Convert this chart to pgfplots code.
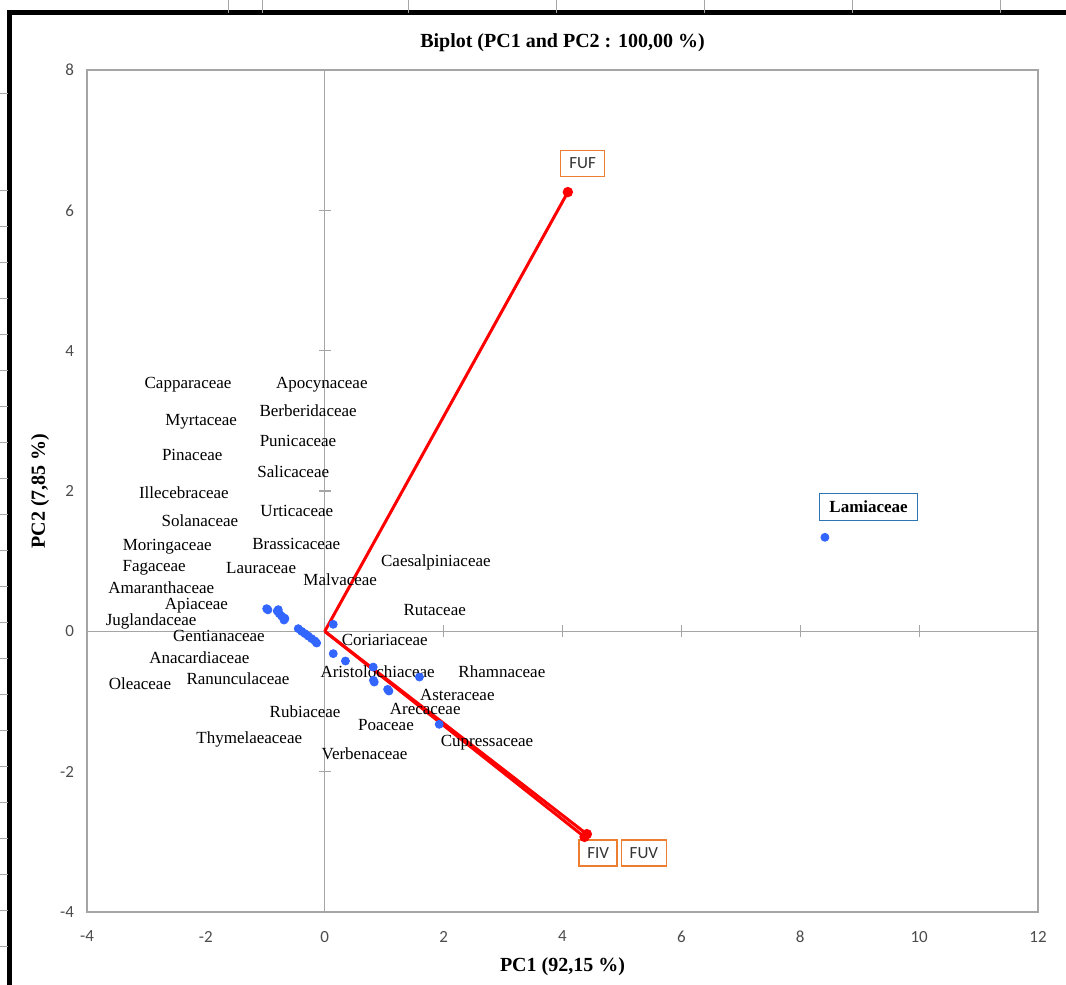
\documentclass[border=0pt]{standalone}
\usepackage{fontspec}
\setmainfont{Liberation Serif}
\newfontfamily\calfont{Carlito}
\usepackage{pgfplots}
\pgfplotsset{compat=1.18}
\definecolor{ptblue}{RGB}{51,102,255}
\definecolor{boxorange}{RGB}{237,125,49}
\definecolor{boxblue}{RGB}{46,117,182}
\definecolor{axgray}{RGB}{165,165,165}
\newcommand\lab{\fontsize{8.5}{10}\selectfont}
\begin{document}
\begin{tikzpicture}
\useasboundingbox (-43.5pt,-36.5pt) rectangle (489.5pt,456pt);
% outer frame
\draw[black, line width=2.5pt] (-38.5pt,-40pt) -- (-38.5pt,449.5pt) -- (495pt,449.5pt);
\foreach \px in {228,262,408,556,704,852,1000}{
  \draw[gray!70, line width=0.4pt] ({\px*0.5pt-43.5pt},456pt) -- ({\px*0.5pt-43.5pt},449.5pt);
}
\foreach \py in {93,190,226,262,298,334,370,406,442,478,514,550,586,622,658,694,730,766,802,838,874,910,946}{
  \draw[gray!70, line width=0.4pt] (-43.5pt,{456pt-\py*0.5pt}) -- (-39.5pt,{456pt-\py*0.5pt});
}
\begin{axis}[
  at={(0,0)}, anchor=south west, scale only axis,
  width=475.5pt, height=421pt,
  xmin=-4, xmax=12, ymin=-4, ymax=8,
  xtick={-4,-2,...,12}, ytick={-4,-2,...,8},
  axis line style={axgray, line width=0.6pt},
  major tick length=0pt,
  /pgf/number format/assume math mode=true,
  ticklabel style={font=\calfont\fontsize{8.5}{10}\selectfont, text=black!70},
  xticklabel style={yshift=-6pt},
  yticklabel style={xshift=-3pt},
  title={\bfseries Biplot (PC1 and PC2 : 100,00 \%)},
  title style={at={(0.5,1)}, anchor=center, yshift=7.5pt, font=\fontsize{10}{12}\selectfont},
  xlabel={\bfseries PC1 (92,15 \%)},
  xlabel style={at={(0.5,0)}, anchor=center, yshift=-27.5pt, font=\fontsize{10}{12}\selectfont},
  ylabel={\bfseries PC2 (7,85 \%)},
  ylabel style={at={([xshift=-23.5pt]axis description cs:0,0.5)}, anchor=center, font=\fontsize{10}{12}\selectfont},
  clip=false,
]
% zero lines with tick crosses
\draw[axgray, line width=0.6pt] (axis cs:-4,0) -- (axis cs:12,0);
\draw[axgray, line width=0.6pt] (axis cs:0,-4) -- (axis cs:0,8);
\pgfplotsinvokeforeach{-2,2,4,6}{
  \draw[axgray, line width=0.6pt] ([xshift=-3pt]axis cs:0,#1) -- ([xshift=3pt]axis cs:0,#1);
}
\pgfplotsinvokeforeach{2,4,6,8,10}{
  \draw[axgray, line width=0.6pt] ([yshift=-3pt]axis cs:#1,0) -- ([yshift=3pt]axis cs:#1,0);
}
% observations
\addplot[only marks, mark=*, mark size=2pt, ptblue, mark options={draw=ptblue, fill=ptblue}] coordinates {
(-0.977,0.323) (-0.956,0.306) (-0.799,0.289) (-0.782,0.309) (-0.765,0.252)
(-0.725,0.218) (-0.681,0.190) (-0.670,0.181) (-0.686,0.161)
(-0.446,0.038) (-0.389,0.000) (-0.333,-0.033) (-0.278,-0.067)
(-0.220,-0.104) (-0.165,-0.138) (-0.136,-0.167)
(0.143,0.100) (0.143,-0.318) (0.348,-0.423) (0.816,-0.509)
(0.819,-0.698) (0.833,-0.723) (1.058,-0.827) (1.080,-0.851)
(1.593,-0.651) (1.926,-1.325) (8.415,1.340)
};
% variable vectors
\addplot[red, line width=1.5pt, mark=*, mark size=1.8pt, mark indices={2}] coordinates {(0,0) (4.09,6.26)};
\addplot[red, line width=1.5pt, mark=*, mark size=1.8pt, mark indices={2}] coordinates {(0,0) (4.37,-2.93)};
\addplot[red, line width=1.5pt, mark=*, mark size=1.8pt, mark indices={2}] coordinates {(0,0) (4.41,-2.89)};
% variable labels
\node[draw=boxorange, line width=0.7pt, font=\calfont\lab, text=black!80, inner sep=0pt, minimum width=22pt, minimum height=13pt] at (axis cs:4.34,6.67) {FUF};
\node[draw=boxorange, line width=0.7pt, font=\calfont\lab, text=black!80, inner sep=0pt, minimum width=19pt, minimum height=13pt] at (axis cs:4.60,-3.16) {FIV};
\node[draw=boxorange, line width=0.7pt, font=\calfont\lab, text=black!80, inner sep=0pt, minimum width=22.5pt, minimum height=13pt] at (axis cs:5.37,-3.16) {FUV};
% observation labels
\node[draw=boxblue, line width=0.7pt, font=\lab\bfseries, inner xsep=5pt, inner ysep=0pt, minimum height=13.5pt] at (axis cs:9.15,1.77) {Lamiaceae};
\begin{scope}[every node/.style={font=\lab, inner sep=0pt}]
\node at (axis cs:-2.30,3.51) {Capparaceae};
\node at (axis cs:-0.05,3.51) {Apocynaceae};
\node at (axis cs:-0.28,3.14) {Berberidaceae};
\node at (axis cs:-2.08,2.98) {Myrtaceae};
\node at (axis cs:-0.45,2.71) {Punicaceae};
\node at (axis cs:-2.23,2.52) {Pinaceae};
\node at (axis cs:-0.53,2.27) {Salicaceae};
\node at (axis cs:-2.37,1.98) {Illecebraceae};
\node at (axis cs:-0.47,1.71) {Urticaceae};
\node at (axis cs:-2.10,1.57) {Solanaceae};
\node at (axis cs:-0.48,1.25) {Brassicaceae};
\node at (axis cs:-2.65,1.21) {Moringaceae};
\node at (axis cs:-2.87,0.90) {Fagaceae};
\node at (axis cs:-1.07,0.90) {Lauraceae};
\node at (axis cs:0.26,0.73) {Malvaceae};
\node at (axis cs:1.87,0.98) {Caesalpiniaceae};
\node at (axis cs:-2.75,0.62) {Amaranthaceae};
\node at (axis cs:-2.16,0.37) {Apiaceae};
\node at (axis cs:1.85,0.31) {Rutaceae};
\node at (axis cs:-2.92,0.14) {Juglandaceae};
\node at (axis cs:-1.78,-0.06) {Gentianaceae};
\node at (axis cs:1.01,-0.13) {Coriariaceae};
\node at (axis cs:-2.11,-0.37) {Anacardiaceae};
\node at (axis cs:0.89,-0.57) {Aristolochiaceae};
\node at (axis cs:2.98,-0.57) {Rhamnaceae};
\node at (axis cs:-3.11,-0.74) {Oleaceae};
\node at (axis cs:-1.46,-0.68) {Ranunculaceae};
\node at (axis cs:2.23,-0.90) {Asteraceae};
\node at (axis cs:1.69,-1.10) {Arecaceae};
\node at (axis cs:-0.33,-1.14) {Rubiaceae};
\node at (axis cs:1.03,-1.33) {Poaceae};
\node at (axis cs:2.73,-1.58) {Cupressaceae};
\node at (axis cs:-1.27,-1.54) {Thymelaeaceae};
\node at (axis cs:0.67,-1.75) {Verbenaceae};
\end{scope}
\end{axis}
\end{tikzpicture}
\end{document}
